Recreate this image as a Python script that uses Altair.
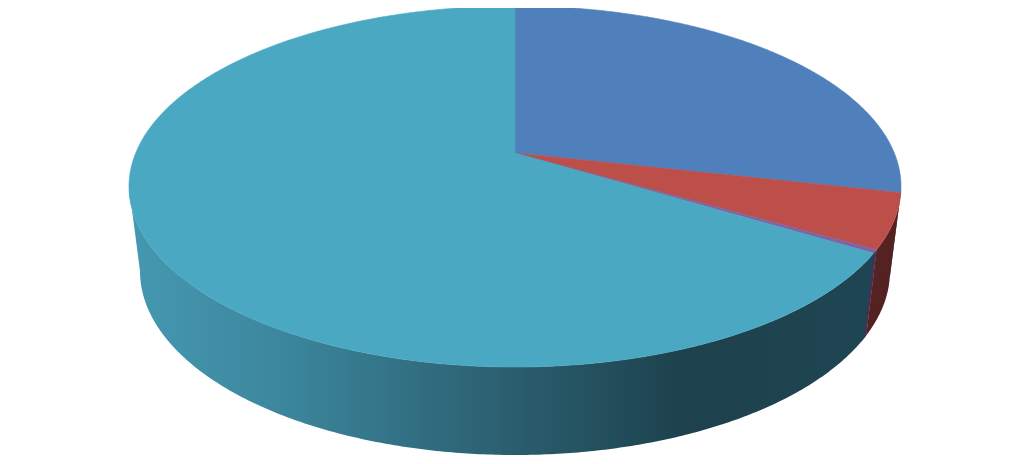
import numpy as np
import pandas as pd
import altair as alt

categories = ["Blue", "Red", "Purple", "Teal"]
shares = [28.5, 4.9, 0.3, 66.3]
top_colors = ["#4F80BB", "#BD4F4B", "#8064A2", "#4AA8C3"]
wall_fills = [
    "#2B4260",
    alt.Gradient(gradient="linear", x1=0, y1=0, x2=1, y2=1, stops=[
        alt.GradientStop(offset=0, color="#5C2524"), alt.GradientStop(offset=1, color="#4E1F1F")]),
    "#41335A",
    alt.Gradient(gradient="linear", x1=0, y1=0, x2=1, y2=0, stops=[
        alt.GradientStop(offset=0.0, color="#4598B1"),
        alt.GradientStop(offset=0.2, color="#3C879E"),
        alt.GradientStop(offset=0.5, color="#2B6070"),
        alt.GradientStop(offset=0.75, color="#1D414D"),
        alt.GradientStop(offset=1.0, color="#1E4652"),
    ]),
]

# perspective disc geometry (top face, bottom face), page pixel units
CX, APEX_Y = 515.0, 153.0
P = 0.1856
TOP = (379.3, 174.3, APEX_Y)
BOT = (368.5, 177.7, 236.8)


def disc(deg, f):
    a, b, c = f
    t = np.radians(deg)
    u, v = np.sin(t), -np.cos(t)
    s = 1 / (1 - P * v)
    return CX + a * u * s, c + b * v * s


def sweep(d0, d1):
    return np.linspace(d0, d1, max(2, int(abs(d1 - d0) * 2) + 1))


edges = np.concatenate([[0], np.cumsum(shares) / np.sum(shares) * 360])
VIS0 = 90 + np.degrees(np.arcsin(P))
VIS1 = 270 - np.degrees(np.arcsin(P))

xs = alt.X("x:Q", axis=None, scale=alt.Scale(domain=[8, 1016]))
ys = alt.Y("y:Q", axis=None, scale=alt.Scale(domain=[456, 8]))


def poly(px, py, fill, stroke=None):
    df = pd.DataFrame({"x": px, "y": py, "i": range(len(px))})
    kw = {"stroke": stroke, "strokeWidth": 0.6} if stroke else {"strokeWidth": 0}
    return alt.Chart(df).mark_line(fill=fill, interpolate="linear-closed", **kw).encode(
        x=xs, y=ys, order="i:Q")


layers = []
# dark underlay so that no seam shows between neighbouring wall pieces
d_all = sweep(edges[2], edges[3] + 1)
ux, uy = disc(d_all, TOP)
lx, ly = disc(d_all, BOT)
layers.append(poly(np.r_[ux, lx[::-1]], np.r_[uy, ly[::-1]], "#3A2A40"))

for k in range(len(shares)):
    d0, d1 = max(edges[k], VIS0), min(edges[k + 1], VIS1)
    if d1 <= d0:
        continue
    d = sweep(d0, d1)
    tx, ty = disc(d, TOP)
    bx, by = disc(d, BOT)
    layers.append(poly(np.r_[tx, bx[::-1]], np.r_[ty, by[::-1]], wall_fills[k]))

for k in range(len(shares)):
    d = sweep(edges[k], edges[k + 1])
    ax, ay = disc(d, TOP)
    layers.append(poly(np.r_[CX, ax], np.r_[APEX_Y, ay], top_colors[k], top_colors[k]))

chart = alt.layer(*layers).properties(
    width=1008, height=448, padding=0, autosize=alt.AutoSizeParams(type="none"),
    background="white"
).configure_view(stroke=None)

chart.save("out.html", embed_options={"renderer": "svg", "actions": False})
